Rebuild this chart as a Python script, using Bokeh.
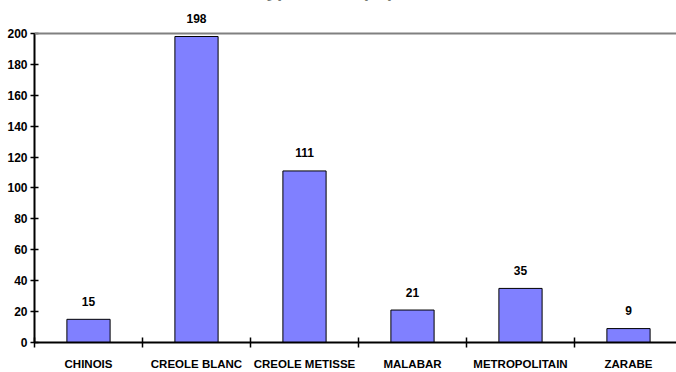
from bokeh.plotting import figure
from bokeh.models import (ColumnDataSource, Range1d, FixedTicker, LabelSet,
                          Label, Span)
from bokeh.core.properties import value
from bokeh.embed import file_html
from bokeh.resources import INLINE

# Population by origin
categories = ["CHINOIS", "CREOLE BLANC", "CREOLE METISSE", "MALABAR",
              "METROPOLITAIN", "ZARABE"]
counts = [15, 198, 111, 21, 35, 9]
y_ticks = [0, 20, 40, 60, 80, 100, 120, 140, 160, 180, 200]
title_text = "Types de la population"

# each category occupies one unit; bars sit in the middle of their slot
centers = [i + 0.5 for i in range(len(categories))]
bounds = list(range(len(categories) + 1))

source = ColumnDataSource(dict(x=centers, top=counts,
                               label=[str(c) for c in counts]))

# the plot area runs up to the page edge so the labels above 200 stay inside
p = figure(width=676, height=372, output_backend="svg", toolbar_location=None,
           x_range=Range1d(0, 642 / 108), y_range=Range1d(0, 343 / 1.55),
           min_border_left=34, min_border_right=0, min_border_top=0,
           min_border_bottom=29)
p.background_fill_color = "white"
p.border_fill_color = "white"
p.outline_line_color = None
p.grid.visible = False

p.vbar(x="x", top="top", width=0.4, source=source,
       fill_color="#8080FF", line_color="black", line_width=1)

# grey line closing the plot area at the top
p.add_layout(Span(location=200, dimension="width", line_color="#808080",
                  line_width=2))

labels = LabelSet(x="x", y="top", text="label", source=source,
                  text_align="center", text_baseline="bottom", y_offset=13.5,
                  text_font=value("Liberation Sans"), text_font_size="12px",
                  text_font_style="bold", text_color="black")
p.add_layout(labels)

# x axis: boundary ticks crossing the axis, names centred in each slot
xa = p.xaxis[0]
xa.ticker = FixedTicker(ticks=centers, minor_ticks=bounds)
xa.major_label_overrides = {c: n for c, n in zip(centers, categories)}
xa.major_tick_in = 0
xa.major_tick_out = 0
xa.minor_tick_in = 5
xa.minor_tick_out = 5
xa.minor_tick_line_color = "black"
xa.minor_tick_line_width = 1.5
xa.axis_line_color = "black"
xa.axis_line_width = 2
xa.major_label_standoff = 10
xa.major_label_text_font = "Liberation Sans"
xa.major_label_text_font_size = "11.5px"
xa.major_label_text_font_style = "bold"
xa.major_label_text_color = "black"

ya = p.yaxis[0]
ya.ticker = FixedTicker(ticks=y_ticks, minor_ticks=[])
ya.bounds = (0, 200)
ya.major_tick_in = 4
ya.major_tick_out = 4
ya.major_tick_line_color = "black"
ya.major_tick_line_width = 1.5
ya.axis_line_color = "black"
ya.axis_line_width = 2
ya.major_label_standoff = 3
ya.major_label_text_font = "Liberation Sans"
ya.major_label_text_font_size = "12px"
ya.major_label_text_font_style = "bold"
ya.major_label_text_color = "black"

# chart title, sitting at the very top edge of the page
p.add_layout(Label(x=3.0, y=228.0, text=title_text, text_align="center",
                   text_baseline="alphabetic", text_font="Liberation Sans",
                   text_font_size="19px", text_font_style="bold",
                   text_color="black"))

open("out.html", "w").write(file_html(p, INLINE))
